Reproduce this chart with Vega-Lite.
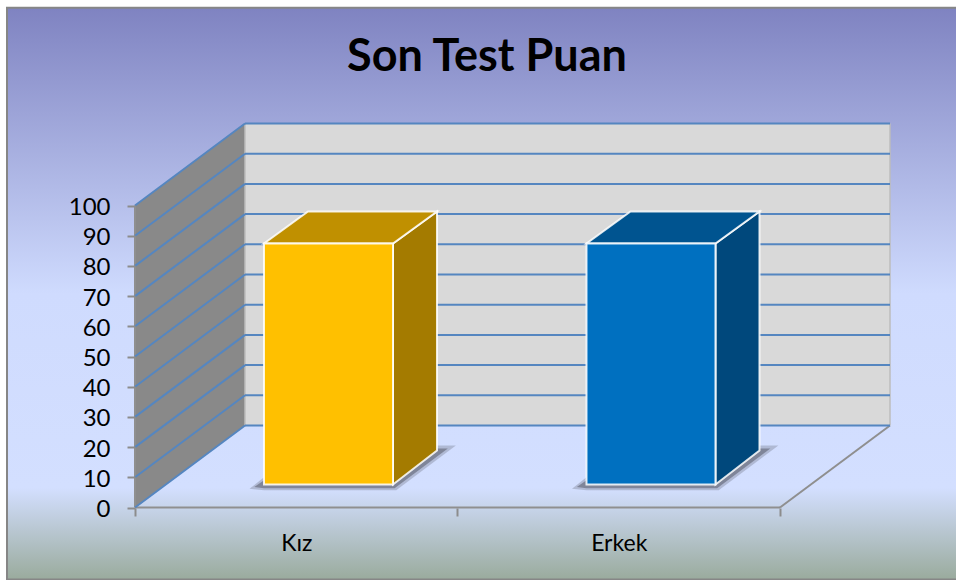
{
"$schema":"https://vega.github.io/schema/vega-lite/v6.json",
"width":956,"height":580,"autosize":"none","padding":0,"background":"#ffffff",
"title":{"text":"Son Test Puan","anchor":"middle","frame":"group","dx":9,"offset":-116,"baseline":"alphabetic","font":"Lato","fontSize":45,"fontWeight":"bold","color":"#000000"},
"config":{"view":{"stroke":null}},
"encoding":{
 "x":{"field":"x","type":"quantitative","scale":{"domain":[-0.4186,2.54574],"nice":false,"zero":false},
  "axis":{"title":null,"grid":false,"domain":false,"orient":"bottom","offset":-72,"zindex":1,"values":[0,0.5,1,1.5,2],"tickSize":8,"tickWidth":2,"tickColor":"#8c8c8c","tickOpacity":{"condition":{"test":"datum.value % 1 !== 0","value":0},"value":1},"labelExpr":"datum.value === 0.5 ? 'Kız' : datum.value === 1.5 ? 'Erkek' : ''","labelFont":"Lato","labelFontSize":23,"labelColor":"#000000","labelPadding":16,"labelOverlap":false}},
 "y":{"field":"y","type":"quantitative","scale":{"domain":[-24.006,168.047],"nice":false,"zero":false},
  "axis":{"title":null,"grid":false,"domain":false,"orient":"left","offset":-135,"zindex":1,"values":[0,10,20,30,40,50,60,70,80,90,100],"tickSize":8,"tickWidth":2,"tickColor":"#8c8c8c","labelFont":"Lato","labelFontSize":24,"labelColor":"#000000","labelPadding":17,"labelOffset":2,"labelOverlap":false}}
},
"layer":[
 {"data":{"values":[{"x":-0.3969,"x2":2.56,"y":165.5,"y2":-23.8}]},
  "mark":{"type":"rect","stroke":"#868686","strokeWidth":2,"color":{"gradient":"linear","x1":0,"y1":0,"x2":0,"y2":1,"stops":[{"offset":0,"color":"#7F83C1"},{"offset":0.5,"color":"#CFDBFE"},{"offset":0.84,"color":"#D3DFFF"},{"offset":1,"color":"#9AAB9D"}]}},
  "encoding":{"x2":{"field":"x2"},"y2":{"field":"y2"}}},
 {"data":{"values":[
   {"yuz":"sol","x":0,"y":100,"y2":0},{"yuz":"sol","x":0.3411,"y":127.15,"y2":27.15},
   {"yuz":"arka","x":0.3411,"y":127.15,"y2":27.15},{"yuz":"arka","x":2.3411,"y":127.15,"y2":27.15}]},
  "mark":{"type":"area","interpolate":"linear"},
  "encoding":{"y2":{"field":"y2"},"color":{"field":"yuz","type":"nominal","legend":null,"scale":{"domain":["sol","arka"],"range":["#898989","#D9D9D9"]}}}},
 {"data":{"values":[
   {"x":0.3411,"x2":0.3411,"y":27.15,"y2":127.15},{"x":2.3411,"x2":2.3411,"y":27.15,"y2":127.15}]},
  "mark":{"type":"rule","stroke":"#bdbdbd","strokeWidth":1.5},
  "encoding":{"x2":{"field":"x2"},"y2":{"field":"y2"}}},
 {"data":{"values":[
   {"x":0,"x2":2,"y":0,"y2":0},{"x":2,"x2":2.3411,"y":0,"y2":27.15},{"x":0,"x2":0,"y":0,"y2":100}]},
  "mark":{"type":"rule","stroke":"#8f8f8f","strokeWidth":2},
  "encoding":{"x2":{"field":"x2"},"y2":{"field":"y2"}}},
 {"data":{"values":[
   {"x":0,"x2":0.3411,"y":0,"y2":27.15},{"x":0,"x2":0.3411,"y":10,"y2":37.15},{"x":0,"x2":0.3411,"y":20,"y2":47.15},{"x":0,"x2":0.3411,"y":30,"y2":57.15},{"x":0,"x2":0.3411,"y":40,"y2":67.15},{"x":0,"x2":0.3411,"y":50,"y2":77.15},{"x":0,"x2":0.3411,"y":60,"y2":87.15},{"x":0,"x2":0.3411,"y":70,"y2":97.15},{"x":0,"x2":0.3411,"y":80,"y2":107.15},{"x":0,"x2":0.3411,"y":90,"y2":117.15},{"x":0,"x2":0.3411,"y":100,"y2":127.15},
   {"x":0.3411,"x2":2.3411,"y":27.15,"y2":27.15},{"x":0.3411,"x2":2.3411,"y":37.15,"y2":37.15},{"x":0.3411,"x2":2.3411,"y":47.15,"y2":47.15},{"x":0.3411,"x2":2.3411,"y":57.15,"y2":57.15},{"x":0.3411,"x2":2.3411,"y":67.15,"y2":67.15},{"x":0.3411,"x2":2.3411,"y":77.15,"y2":77.15},{"x":0.3411,"x2":2.3411,"y":87.15,"y2":87.15},{"x":0.3411,"x2":2.3411,"y":97.15,"y2":97.15},{"x":0.3411,"x2":2.3411,"y":107.15,"y2":107.15},{"x":0.3411,"x2":2.3411,"y":117.15,"y2":117.15},{"x":0.3411,"x2":2.3411,"y":127.15,"y2":127.15}]},
  "mark":{"type":"rule","stroke":"#5586C0","strokeWidth":2},
  "encoding":{"x2":{"field":"x2"},"y2":{"field":"y2"}}},
 {"data":{"values":[
   {"g":"Kız","x":0.355,"y":6.2,"y2":6.2},{"g":"Kız","x":0.4,"y":10,"y2":5.7},{"g":"Kız","x":0.81,"y":20.5,"y2":5.7},{"g":"Kız","x":0.995,"y":20.5,"y2":20.5},
   {"g":"Erkek","x":1.355,"y":6.2,"y2":6.2},{"g":"Erkek","x":1.4,"y":10,"y2":5.7},{"g":"Erkek","x":1.81,"y":20.5,"y2":5.7},{"g":"Erkek","x":1.995,"y":20.5,"y2":20.5}]},
  "mark":{"type":"area","color":"#5f6272","opacity":0.3,"interpolate":"linear"},
  "encoding":{"y2":{"field":"y2"},"detail":{"field":"g"}}},
 {"data":{"values":[
   {"g":"Kız","x":0.37,"y":6.8,"y2":6.8},{"g":"Kız","x":0.4,"y":9,"y2":6.4},{"g":"Kız","x":0.805,"y":19.5,"y2":6.4},{"g":"Kız","x":0.97,"y":19.5,"y2":19.5},
   {"g":"Erkek","x":1.37,"y":6.8,"y2":6.8},{"g":"Erkek","x":1.4,"y":9,"y2":6.4},{"g":"Erkek","x":1.805,"y":19.5,"y2":6.4},{"g":"Erkek","x":1.97,"y":19.5,"y2":19.5}]},
  "mark":{"type":"area","color":"#5f6272","opacity":0.6,"interpolate":"linear"},
  "encoding":{"y2":{"field":"y2"},"detail":{"field":"g"}}},
 {"data":{"values":[
   {"yuz":"Kız yan","x":0.8,"y":87.4,"y2":7.6},{"yuz":"Kız yan","x":0.9364,"y":98,"y2":18.9},
   {"yuz":"Kız üst","x":0.4,"y":87.4,"y2":87.4},{"yuz":"Kız üst","x":0.5364,"y":98,"y2":87.4},{"yuz":"Kız üst","x":0.8,"y":98,"y2":87.4},{"yuz":"Kız üst","x":0.9364,"y":98,"y2":98},
   {"yuz":"Kız ön","x":0.4,"y":87.4,"y2":7.6},{"yuz":"Kız ön","x":0.8,"y":87.4,"y2":7.6},
   {"yuz":"Erkek yan","x":1.8,"y":87.4,"y2":7.6},{"yuz":"Erkek yan","x":1.9364,"y":98,"y2":18.9},
   {"yuz":"Erkek üst","x":1.4,"y":87.4,"y2":87.4},{"yuz":"Erkek üst","x":1.5364,"y":98,"y2":87.4},{"yuz":"Erkek üst","x":1.8,"y":98,"y2":87.4},{"yuz":"Erkek üst","x":1.9364,"y":98,"y2":98},
   {"yuz":"Erkek ön","x":1.4,"y":87.4,"y2":7.6},{"yuz":"Erkek ön","x":1.8,"y":87.4,"y2":7.6}]},
  "mark":{"type":"area","interpolate":"linear","stroke":"#ffffff","strokeWidth":2,"strokeOpacity":0.85},
  "encoding":{"y2":{"field":"y2"},"color":{"field":"yuz","type":"nominal","legend":null,"scale":{"domain":["Kız yan","Kız üst","Kız ön","Erkek yan","Erkek üst","Erkek ön"],"range":["#A47B00","#C09000","#FFC000","#00487C","#005490","#0070C0"]}}}}
],
"resolve":{"scale":{"color":"independent"}}
}
